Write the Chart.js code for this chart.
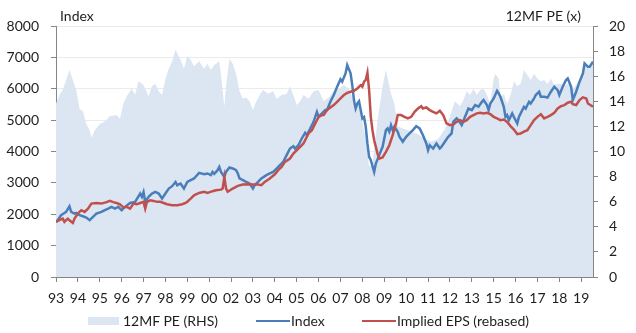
<!DOCTYPE html>
<html lang="en">
<head>
    <meta charset="UTF-8">
    <title>Index, implied EPS and 12MF PE</title>
    <script src="https://cdn.jsdelivr.net/npm/chart.js"></script>
    <style>
        body {
            margin: 0;
            background: #ffffff;
            font-family: Lato, "Open Sans", sans-serif;
        }
        /* chart plus legend in one fixed box */
        #wrap {
            position: relative;
            width: 636px;
            height: 333px;
        }
        #chart {
            position: absolute;
            left: 0;
            top: 0;
        }
        .legend-item {
            position: absolute;
            top: 312px;
            height: 17px;
            line-height: 17px;
            font-size: 14px;
            color: #1e1e1e;
            white-space: nowrap;
        }
        .swatch {
            position: absolute;
        }
    </style>
</head>
<body>
<div id="wrap">
    <canvas id="chart" width="636" height="333"></canvas>

    <!-- legend -->
    <div class="swatch" style="left:88px;top:317px;width:31px;height:8px;background:#dce6f2;"></div>
    <div class="legend-item" style="left:123px;">12MF PE (RHS)</div>
    <div class="swatch" style="left:256px;top:319.5px;width:34px;height:2.5px;background:#4a7ebb;"></div>
    <div class="legend-item" style="left:291px;">Index</div>
    <div class="swatch" style="left:362px;top:319.5px;width:34px;height:2.5px;background:#c0504d;"></div>
    <div class="legend-item" style="left:397px;">Implied EPS (rebased)</div>
</div>

<script>
// x is months since May 1993
var yearLabels = ['93', '94', '95', '96', '97', '98', '99', '00', '02', '03', '04', '05', '06',
    '07', '08', '09', '10', '11', '12', '13', '15', '16', '17', '18', '19'];

// 12M forward PE (right axis)
var peMonths = [0, 2, 4, 8, 10, 12, 14, 16, 18, 20, 21, 23, 26, 29, 32, 36, 38, 40, 42, 45, 47, 49, 52, 55,
    57, 59, 61, 63, 65, 67, 69, 71, 74, 76, 78, 80, 82, 85, 88, 90, 92, 94, 97, 98, 100, 101, 103, 105,
    107, 109, 111, 113, 115, 117, 119, 121, 123, 126, 129, 131, 134, 137, 139, 141, 143, 145, 147, 150,
    153, 156, 159, 162, 165, 168, 171, 174, 177, 180, 181, 184, 186, 188, 191, 194, 196, 199, 201, 203,
    207, 211, 215, 219, 223, 227, 231, 234, 237, 240, 242, 244, 246, 248, 250, 252, 254, 256, 258, 260,
    261, 263, 264, 266, 268, 270, 272, 274, 276, 278, 280, 282, 284, 286, 288, 290, 292, 294, 296, 298,
    300, 302, 304, 306, 307, 309, 311, 313, 315, 317, 319];
var peValues = [13.8, 14.5, 14.9, 16.5, 15.7, 14.9, 13.4, 13.2, 12.2, 11.7, 11.1, 11.7, 12.2, 12.4, 12.8,
    12.9, 12.6, 13.8, 14.4, 15.0, 14.5, 15.6, 15.3, 14.4, 15.2, 15.4, 14.8, 14.5, 15.8, 16.6, 17.2, 18.1,
    17.3, 16.6, 17.6, 17.3, 16.8, 17.2, 16.6, 17.0, 16.5, 16.9, 17.2, 16.1, 13.6, 15.2, 17.4, 17.0, 16.2,
    14.8, 14.2, 14.3, 14.0, 13.3, 14.0, 14.5, 14.9, 14.6, 14.8, 14.2, 14.5, 14.6, 15.2, 14.5, 13.7, 14.0,
    14.5, 14.2, 14.8, 14.9, 14.0, 14.3, 14.8, 15.0, 15.3, 15.0, 14.0, 13.5, 13.0, 11.0, 8.8, 9.0, 12.5,
    15.2, 16.5, 14.6, 13.8, 12.0, 11.8, 11.6, 11.4, 11.0, 10.8, 11.0, 11.8, 12.8, 14.0, 13.6, 14.1, 14.8,
    14.5, 15.0, 14.5, 14.9, 15.0, 14.5, 13.8, 15.8, 16.2, 15.8, 14.3, 14.6, 13.8, 14.5, 15.6, 15.2, 15.4,
    16.5, 16.1, 15.7, 16.2, 15.8, 15.6, 15.7, 15.4, 15.8, 15.3, 15.4, 15.4, 15.2, 15.4, 15.3, 15.0, 15.3,
    15.7, 16.5, 16.9, 16.8, 17.3];

// index level (left axis)
var indexMonths = [0, 1, 3, 5, 6, 8, 9, 11, 12, 14, 16, 18, 20, 22, 24, 27, 29, 31, 33, 35, 37, 39, 41, 44,
    47, 50, 51, 52, 53, 55, 57, 59, 61, 63, 65, 67, 69, 71, 72, 74, 76, 78, 80, 82, 85, 88, 90, 92, 93, 94,
    96, 97, 98, 100, 101, 103, 105, 107, 108, 109, 111, 113, 115, 117, 118, 120, 122, 125, 127, 129, 131,
    133, 135, 137, 139, 141, 142, 144, 146, 148, 149, 151, 153, 155, 156, 158, 160, 161, 163, 165, 167,
    169, 170, 172, 173, 175, 176, 177, 178, 179, 180, 181, 182, 183, 184, 185, 186, 187, 189, 190, 192,
    194, 196, 197, 198, 199, 200, 201, 203, 204, 206, 208, 210, 212, 214, 216, 218, 220, 221, 222, 224,
    226, 228, 229, 231, 233, 235, 236, 238, 239, 241, 243, 245, 247, 249, 251, 253, 254, 256, 257, 258,
    260, 262, 263, 264, 266, 267, 268, 269, 271, 272, 274, 275, 277, 278, 279, 281, 282, 284, 285, 287,
    288, 290, 292, 294, 296, 298, 299, 301, 303, 304, 306, 307, 309, 311, 313, 314, 316, 317, 319];
var indexValues = [1755, 1810, 1970, 2040, 2075, 2255, 2075, 2020, 2040, 1970, 1935, 1895, 1810, 1915, 2020,
    2075, 2130, 2180, 2235, 2180, 2235, 2130, 2235, 2360, 2395, 2660, 2555, 2710, 2395, 2555, 2660, 2710,
    2660, 2500, 2660, 2820, 2895, 3030, 2925, 2980, 2820, 3030, 3085, 3140, 3320, 3275, 3300, 3245, 3350,
    3290, 3405, 3510, 3350, 3190, 3350, 3490, 3460, 3405, 3300, 3140, 3085, 3030, 2980, 2820, 2925, 3030,
    3140, 3245, 3300, 3350, 3455, 3565, 3670, 3885, 4095, 4170, 4095, 4200, 4415, 4595, 4520, 4735, 4945,
    5265, 5105, 5215, 5320, 5320, 5585, 5800, 6065, 6300, 6225, 6490, 6755, 6490, 6115, 5640, 5370, 5530,
    5600, 5320, 5055, 5100, 4785, 4255, 3830, 3725, 3350, 3615, 3885, 4150, 4680, 4735, 4630, 4840, 4680,
    4790, 4630, 4470, 4310, 4470, 4575, 4680, 4810, 4735, 4520, 4255, 4045, 4200, 4095, 4255, 4095, 4150,
    4310, 4470, 4575, 4945, 5055, 5000, 4840, 5105, 5370, 5320, 5480, 5430, 5585, 5640, 5480, 5320, 5530,
    5690, 5935, 5850, 5745, 5425, 5105, 5160, 5000, 5215, 5100, 4895, 5105, 5320, 5425, 5370, 5585, 5530,
    5690, 5800, 5905, 5745, 5745, 5720, 5905, 6065, 5955, 5800, 6065, 6280, 6330, 6065, 5640, 5905, 6225,
    6490, 6810, 6700, 6700, 6860];

// implied EPS, rebased to the index (left axis)
var epsMonths = [0, 2, 4, 5, 6, 7, 8, 10, 11, 13, 15, 17, 19, 21, 24, 27, 30, 32, 34, 36, 38, 40, 42, 44, 46,
    48, 50, 52, 53, 54, 56, 58, 60, 62, 64, 66, 69, 72, 75, 77, 78, 79, 80, 82, 85, 88, 90, 93, 95, 98, 99,
    100, 101, 102, 105, 108, 111, 114, 117, 120, 122, 124, 127, 130, 132, 134, 136, 139, 141, 144, 147,
    150, 152, 154, 156, 158, 159, 161, 163, 165, 167, 169, 171, 173, 175, 177, 179, 181, 182, 183, 184,
    185, 186, 187, 188, 189, 190, 191, 192, 194, 196, 198, 200, 202, 203, 205, 207, 209, 211, 213, 215,
    217, 218, 220, 222, 224, 226, 228, 230, 232, 234, 236, 238, 240, 242, 244, 246, 248, 250, 252, 254,
    256, 258, 260, 262, 264, 266, 268, 270, 272, 274, 276, 278, 280, 282, 284, 286, 288, 290, 292, 294,
    296, 298, 300, 302, 304, 306, 307, 309, 311, 313, 315, 316, 319];
var epsValues = [1755, 1810, 1860, 1755, 1810, 1860, 1810, 1720, 1860, 2020, 2130, 2075, 2180, 2340, 2360,
    2340, 2385, 2425, 2385, 2360, 2320, 2215, 2235, 2180, 2340, 2320, 2360, 2395, 2180, 2395, 2445, 2425,
    2395, 2395, 2360, 2320, 2290, 2290, 2320, 2360, 2395, 2450, 2500, 2605, 2680, 2715, 2680, 2735, 2765,
    2785, 2820, 3190, 2820, 2715, 2820, 2905, 2945, 2955, 2945, 2945, 2925, 3030, 3140, 3275, 3405, 3510,
    3670, 3775, 3935, 4095, 4255, 4575, 4680, 4895, 5105, 5160, 5160, 5320, 5405, 5480, 5585, 5690, 5800,
    5870, 5905, 5935, 6010, 6115, 6065, 6225, 6280, 6510, 5960, 5105, 4680, 4360, 4150, 3935, 3775, 3810,
    3990, 4200, 4520, 4895, 5160, 5160, 5105, 5055, 5105, 5265, 5370, 5445, 5370, 5405, 5320, 5265, 5215,
    5300, 5160, 4895, 4840, 4860, 4945, 5000, 4945, 5000, 5105, 5160, 5215, 5235, 5215, 5235, 5190, 5105,
    5055, 5000, 5020, 4945, 4810, 4700, 4555, 4575, 4630, 4680, 4840, 5000, 5105, 5190, 5055, 5105, 5160,
    5235, 5370, 5445, 5480, 5555, 5585, 5510, 5480, 5640, 5725, 5690, 5530, 5425];

function toPoints(xs, ys) {
    return xs.map(function (x, i) { return { x: x, y: ys[i] }; });
}

var axisGrey = '#868686';
var textColour = '#1e1e1e';
var tickFont = { family: 'Lato', size: 14 };

// "Index" and "12MF PE (x)" above the two value axes
var axisTitles = {
    id: 'axisTitles',
    afterDraw: function (chart) {
        var ctx = chart.ctx;
        ctx.save();
        ctx.font = '14px Lato';
        ctx.fillStyle = textColour;
        ctx.textBaseline = 'middle';
        ctx.textAlign = 'left';
        ctx.fillText('Index', 60, 16);
        ctx.textAlign = 'right';
        ctx.fillText('12MF PE (x)', 581, 16);
        ctx.restore();
    }
};

new Chart(document.getElementById('chart'), {
    type: 'line',
    data: {
        datasets: [{
            label: 'Implied EPS (rebased)',
            data: toPoints(epsMonths, epsValues),
            yAxisID: 'y',
            borderColor: '#c0504d',
            borderWidth: 2.5,
            pointRadius: 0,
            fill: false,
            order: 1
        }, {
            label: 'Index',
            data: toPoints(indexMonths, indexValues),
            yAxisID: 'y',
            borderColor: '#4a7ebb',
            borderWidth: 2.5,
            pointRadius: 0,
            fill: false,
            order: 2
        }, {
            label: '12MF PE (RHS)',
            data: toPoints(peMonths, peValues),
            yAxisID: 'y2',
            borderWidth: 0,
            borderColor: 'rgba(0,0,0,0)',
            backgroundColor: '#dce6f2',
            pointRadius: 0,
            fill: 'origin',
            order: 3
        }]
    },
    options: {
        responsive: false,
        animation: false,
        layout: { padding: { top: 26, left: 0, right: 0, bottom: 0 } },
        plugins: {
            legend: { display: false },
            tooltip: { enabled: false }
        },
        scales: {
            x: {
                type: 'linear',
                min: 0,
                max: 319,
                afterFit: function (scale) { scale.height = 56; },
                border: { display: true, color: axisGrey, width: 1 },
                grid: {
                    drawOnChartArea: false,
                    drawTicks: true,
                    tickLength: 5,
                    tickColor: axisGrey
                },
                ticks: {
                    stepSize: 13,
                    includeBounds: false,
                    autoSkip: false,
                    maxRotation: 0,
                    padding: 8,
                    color: textColour,
                    font: tickFont,
                    callback: function (value, index) { return yearLabels[index]; }
                }
            },
            y: {
                position: 'left',
                min: 0,
                max: 8000,
                afterFit: function (scale) { scale.width = 56; },
                border: { display: true, color: axisGrey, width: 1 },
                grid: {
                    color: '#ebebeb',
                    drawTicks: true,
                    tickLength: 5,
                    tickColor: axisGrey
                },
                ticks: {
                    stepSize: 1000,
                    padding: 12,
                    color: textColour,
                    font: tickFont,
                    callback: function (value) { return String(value); }
                }
            },
            y2: {
                position: 'right',
                min: 0,
                max: 20,
                afterFit: function (scale) { scale.width = 43; },
                border: { display: true, color: axisGrey, width: 1 },
                grid: {
                    drawOnChartArea: false,
                    drawTicks: true,
                    tickLength: 5,
                    tickColor: axisGrey
                },
                ticks: {
                    stepSize: 2,
                    padding: 11,
                    color: textColour,
                    font: tickFont
                }
            }
        }
    },
    plugins: [axisTitles]
});
</script>
</body>
</html>
